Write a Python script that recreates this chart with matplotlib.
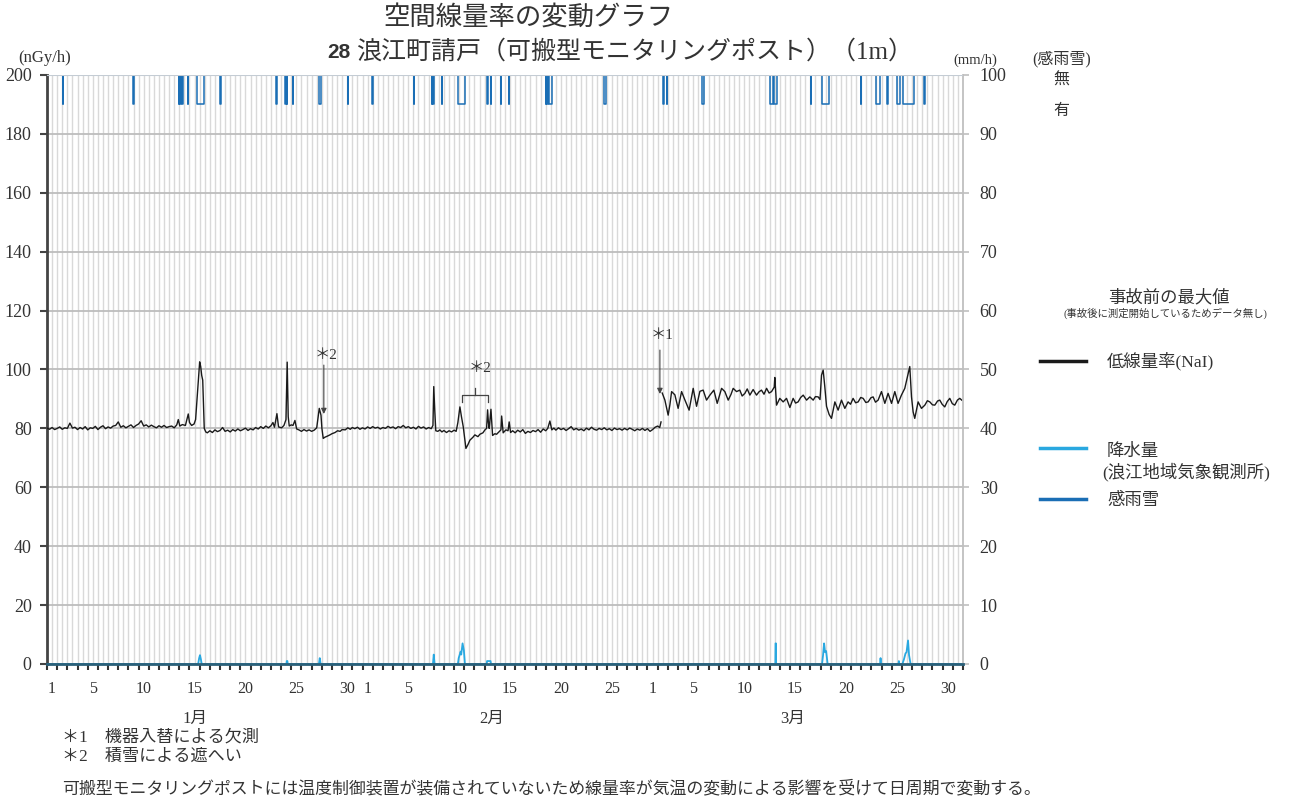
import numpy as np
import matplotlib
matplotlib.use("Agg")
import matplotlib.pyplot as plt
from matplotlib.lines import Line2D

plt.rcParams['font.family'] = ['Liberation Serif', 'Noto Sans CJK JP', 'DejaVu Sans']

# ---------------- data (time in days since Jan 1 00:00) ----------------
month_names = ['1月', '2月', '3月']
month_starts = [0, 31, 59]
month_label_pos = [14.5, 43.7, 73.3]
label_days = [[1, 5, 10, 15, 20, 25, 30], [1, 5, 10, 15, 20, 25], [1, 5, 10, 15, 20, 25, 30]]

dose_t = [0.0, 0.25, 0.5, 0.75, 1.0, 1.25, 1.5, 1.75, 2.0, 2.25, 2.5, 2.75, 3.0, 3.25, 3.5, 3.75,
          4.0, 4.25, 4.5, 4.75, 5.0, 5.25, 5.5, 5.75, 6.0, 6.25, 6.5, 6.75, 7.0, 7.25, 7.5, 7.75,
          8.0, 8.25, 8.5, 8.75, 9.0, 9.25, 9.5, 9.75, 10.0, 10.25, 10.5, 10.75, 11.0, 11.25, 11.5,
          11.75, 12.0, 12.25, 12.5, 12.75, 12.9, 13.05, 13.3, 13.6, 13.88, 14.0, 14.21, 14.45, 14.6,
          14.7, 14.85, 15.0, 15.1, 15.2, 15.3, 15.38, 15.45, 15.6, 15.75, 16.0, 16.25, 16.5, 16.75,
          17.0, 17.25, 17.5, 17.75, 18.0, 18.25, 18.5, 18.75, 19.0, 19.25, 19.5, 19.75, 20.0, 20.25,
          20.5, 20.75, 21.0, 21.25, 21.5, 21.75, 22.0, 22.2, 22.35, 22.59, 22.75, 23.05, 23.28, 23.48,
          23.6, 23.7, 23.8, 24.0, 24.17, 24.36, 24.53, 24.75, 25.0, 25.25, 25.5, 25.75, 26.0, 26.25,
          26.5, 26.62, 26.75, 26.85, 26.92, 27.01, 27.14, 27.3, 27.5, 27.8, 28.0, 28.3, 28.55, 28.8,
          29.0, 29.3, 29.55, 29.8, 30.0, 30.25, 30.5, 30.75, 31.0,
          31.25, 31.5, 31.75, 32.0, 32.25, 32.5, 32.75, 33.0, 33.25, 33.5, 33.75, 34.0, 34.25, 34.5,
          34.75, 35.0, 35.25, 35.5, 35.75, 36.0, 36.25, 36.5, 36.75, 37.0, 37.25, 37.5, 37.75, 37.92,
          38.0, 38.1, 38.2, 38.4, 38.6, 38.8, 39.0, 39.25, 39.5, 39.75, 40.0, 40.2, 40.37, 40.57,
          40.72, 40.9, 41.16, 41.36, 41.55, 41.85, 42.04, 42.34, 42.53, 42.83, 43.03, 43.19, 43.29,
          43.37, 43.45, 43.55, 43.62, 43.78, 44.0, 44.17, 44.4, 44.6, 44.67, 44.82, 45.09, 45.3,
          45.41, 45.55, 45.75, 46.0, 46.25, 46.5, 46.75, 47.0, 47.25, 47.5, 47.75, 48.0, 48.25, 48.5,
          48.75, 49.0, 49.2, 49.41, 49.6, 49.8, 50.0, 50.25, 50.5, 50.75, 51.0, 51.25, 51.5, 51.75,
          52.0, 52.25, 52.5, 52.75, 53.0, 53.25, 53.5, 53.75, 54.0, 54.25, 54.5, 54.75, 55.0, 55.25,
          55.5, 55.75, 56.0, 56.25, 56.5, 56.75, 57.0, 57.25, 57.5, 57.75, 58.0, 58.25, 58.5, 58.75,
          59.0, 59.25, 59.5, 59.75, 60.0, 60.2, 60.33, 60.4,
          60.45, 60.71, 61.03, 61.2, 61.37, 61.69, 62.01, 62.35, 62.67, 63.09, 63.49, 63.82, 64.15,
          64.47, 64.8, 65.13, 65.52, 65.85, 66.28, 66.6, 66.93, 67.2, 67.42, 67.75, 68.07, 68.3,
          68.57, 68.8, 69.06, 69.38, 69.71, 69.95, 70.2, 70.45, 70.7, 70.95, 71.19, 71.45, 71.51,
          71.68, 72.0, 72.33, 72.66, 72.99, 73.31, 73.55, 73.8, 74.05, 74.3, 74.63, 74.95, 75.28,
          75.5, 75.77, 75.95, 76.1, 76.26, 76.42, 76.59, 76.85, 77.08, 77.41, 77.73, 78.06, 78.39,
          78.71, 78.95, 79.2, 79.45, 79.7, 79.95, 80.19, 80.45, 80.68, 80.95, 81.17, 81.4, 81.66,
          81.99, 82.32, 82.64, 82.98, 83.3, 83.62, 83.95, 84.28, 84.55, 84.77, 84.94, 85.1, 85.26,
          85.59, 85.92, 86.25, 86.5, 86.74, 87.0, 87.23, 87.5, 87.72, 87.95, 88.21, 88.45, 88.7,
          88.95, 89.19, 89.45, 89.68, 89.88]
dose_v = [80.1, 79.7, 80.3, 79.6, 80.0, 80.5, 79.7, 80.2, 80.0, 81.8, 80.1, 80.4, 79.6, 80.3, 79.8, 80.6,
          79.5, 80.2, 80.0, 80.7, 79.6, 80.4, 80.9, 79.9, 80.5, 80.1, 80.8, 81.0, 82.2, 80.4, 80.9, 80.2,
          80.7, 81.2, 80.3, 81.0, 81.5, 82.6, 80.8, 81.2, 80.5, 81.1, 80.6, 80.2, 80.9, 80.4, 81.0,
          80.3, 80.6, 80.8, 80.2, 81.2, 83.0, 80.8, 81.3, 81.0, 84.9, 82.0, 81.0, 81.5, 83.0,
          88.0, 96.0, 102.6, 101.0, 98.0, 96.4, 88.0, 80.0, 78.8, 78.5, 79.2, 78.6, 79.5, 78.9,
          79.3, 80.3, 79.0, 79.4, 78.8, 79.6, 79.1, 79.8, 79.2, 79.6, 80.1, 79.3, 79.9, 79.5,
          80.3, 79.8, 80.6, 80.0, 80.8, 80.2, 80.9, 82.0, 80.4, 85.0, 80.5, 80.2, 81.0, 83.0,
          102.5, 84.0, 80.8, 81.2, 81.0, 82.7, 79.8, 79.5, 79.0, 79.6, 79.1, 79.5, 79.0, 79.4,
          80.2, 83.5, 86.8, 85.5, 84.5, 80.0, 76.6, 77.0, 77.3, 77.8, 78.2, 78.6, 79.2, 79.0,
          79.6, 79.5, 80.2, 79.7, 80.3, 79.9, 80.4, 79.7, 80.2,
          79.8, 80.5, 80.0, 80.6, 80.1, 80.4, 79.8, 80.3, 80.0, 80.7, 80.2, 80.5, 79.9, 80.6,
          80.3, 81.0, 80.2, 80.6, 80.0, 80.4, 79.8, 80.7, 80.1, 80.5, 79.8, 80.3, 79.9, 81.0,
          94.2, 86.0, 79.2, 79.0, 79.5, 78.8, 79.3, 78.6, 79.2, 78.8, 79.4, 79.0, 82.0, 87.3,
          84.0, 80.5, 73.2, 74.5, 76.0, 77.0, 77.8, 77.2, 78.0, 78.5, 79.5, 80.0, 86.3,
          82.0, 80.0, 84.0, 86.5, 77.6, 78.2, 78.0, 78.8, 79.5, 84.2, 78.5, 79.5, 79.2,
          82.2, 78.6, 79.2, 78.5, 79.4, 78.8, 79.6, 78.3, 79.0, 78.6, 79.3, 78.9, 79.6, 78.7,
          79.8, 79.2, 80.0, 82.5, 79.5, 80.1, 79.4, 80.2, 79.6, 80.0, 79.3, 79.9, 80.6, 79.5,
          80.0, 79.4, 79.8, 79.2, 80.1, 79.5, 80.4, 79.7, 79.4, 80.0, 79.6, 80.2, 79.5, 79.9,
          79.3, 80.1, 79.6, 79.9, 79.4, 80.0, 79.5, 80.1, 79.7, 79.2, 79.8, 79.4, 80.0, 79.3,
          79.9, 79.0, 79.6, 80.4, 80.8, 80.3, 82.2, np.nan,
          92.0, 89.6, 84.5, 88.0, 92.5, 91.4, 86.8, 92.5, 89.7, 86.2, 93.6, 87.5, 92.6,
          93.0, 89.6, 91.3, 93.0, 88.5, 93.6, 92.5, 89.6, 91.5, 93.6, 92.5, 93.0, 91.0,
          91.9, 93.4, 91.3, 93.2, 91.3, 92.4, 93.0, 91.6, 93.6, 92.0, 92.5, 94.0, 97.3,
          87.9, 90.2, 89.0, 90.2, 87.1, 90.2, 88.6, 89.0, 90.5, 91.3, 89.6, 90.7, 89.6,
          90.8, 90.7, 89.8, 98.1, 99.8, 94.2, 87.5, 84.7, 83.4, 89.0, 86.2, 89.6, 86.8,
          89.0, 88.2, 90.2, 88.7, 89.0, 90.5, 90.2, 88.8, 89.0, 90.4, 90.7, 88.9, 89.6,
          92.5, 88.5, 91.9, 88.5, 92.5, 88.5, 91.3, 93.6, 97.6, 101.0, 90.7, 85.6, 83.4,
          89.0, 86.8, 87.9, 89.4, 89.0, 88.0, 87.9, 89.3, 89.6, 88.2, 87.3, 89.1, 90.2,
          88.4, 87.9, 89.6, 90.2, 89.6]

precip_t = [0.0, 14.85, 14.95, 15.03, 15.12, 15.2, 23.53, 23.56, 23.62, 23.65, 26.72, 26.8, 26.88,
            37.92, 38.0, 38.08, 40.37, 40.45, 40.64, 40.7, 40.83, 40.96, 41.06, 43.2, 43.24, 43.58,
            43.62, 71.56, 71.58, 71.62, 71.64, 76.15, 76.25, 76.35, 76.45, 76.55, 76.7, 81.86, 81.9,
            81.94, 83.66, 83.7, 83.74, 84.05, 84.1, 84.2, 84.35, 84.45, 84.6, 84.7, 84.85, 90.0]
precip_v = [0, 0, 1.0, 1.5, 0.8, 0, 0, 0.5, 0.5, 0, 0, 1.0, 0,
            0, 1.6, 0, 0, 1.0, 2.1, 1.6, 3.5, 2.3, 0, 0, 0.5, 0.5,
            0, 0, 3.5, 3.5, 0, 0, 1.5, 3.5, 2.0, 2.2, 0, 0, 1.0,
            0, 0, 0.5, 0, 0, 0.3, 0.8, 1.8, 2.0, 4.0, 1.5, 0, 0]

# rain/snow sensing episodes (start day, end day)
sense_start = [1.58, 8.46, 12.95, 13.07, 13.3, 13.86, 14.70, 17.04, 22.54, 23.43, 23.55, 24.17,
               26.70, 29.58, 31.97, 36.01, 37.78, 37.96, 38.78, 40.42, 43.25, 43.58, 44.60, 45.40,
               49.02, 49.14, 49.33, 54.74, 60.50, 60.90, 64.37, 71.04, 71.45, 75.03, 76.10, 79.96,
               81.45, 82.50, 83.50, 84.10, 86.20]
sense_end = [1.62, 8.50, 13.0, 13.12, 13.35, 13.9, 15.42, 17.08, 22.58, 23.46, 23.60, 24.21,
             26.90, 29.62, 32.01, 36.05, 37.82, 38.00, 38.82, 41.08, 43.29, 43.62, 44.64, 45.44,
             49.06, 49.18, 49.59, 54.95, 60.58, 60.94, 64.54, 71.35, 71.75, 75.07, 76.86, 80.00,
             81.85, 82.67, 83.80, 85.14, 86.24]
SENSE_NONE, SENSE_YES = 100, 95

# ---------------- figure ----------------
W, H = 1292, 802
fig = plt.figure(figsize=(W / 100, H / 100), dpi=100)
L, R, T, B = 47, 963, 75, 664
ax = fig.add_axes([L / W, 1 - B / H, (R - L) / W, (B - T) / H])
ax.set_xlim(0, 90)
ax.set_ylim(0, 200)
ax2 = ax.twinx()
ax2.set_ylim(0, 100)

txt = '#333333'

# grid
ax.vlines(np.arange(0.5, 90, 0.5), 0, 200, colors='#d9d9d9', lw=1.0, zorder=0)
ax.hlines(np.arange(20, 201, 20), 0, 90, colors='#bdbdbd', lw=1.3, zorder=0.5)

# dose rate
ax.plot(dose_t, dose_v, color='#1a1a1a', lw=1.0, zorder=3)

# precipitation
ax2.plot(precip_t, precip_v, color='#29a8e0', lw=1.3, zorder=2)

# sensing line
st, sv = [0.0], [SENSE_NONE]
for s, e in zip(sense_start, sense_end):
    st += [s, s, e, e]
    sv += [SENSE_NONE, SENSE_YES, SENSE_YES, SENSE_NONE]
st.append(90.0)
sv.append(SENSE_NONE)
ax2.plot(st, sv, color='#1a6eb5', lw=1.1, zorder=2)
ax2.axhline(100, color='#c4ccd4', lw=1.5, zorder=3)

# spines
for a in (ax, ax2):
    a.spines['top'].set_visible(False)
ax.spines['left'].set_color('#444444')
ax.spines['left'].set_linewidth(2)
ax.spines['right'].set_visible(False)
ax2.spines['left'].set_visible(False)
ax2.spines['right'].set_color('#bfbfbf')
ax2.spines['right'].set_linewidth(1.3)
ax2.spines['bottom'].set_color('#2a5f78')
ax2.spines['bottom'].set_linewidth(2)
ax2.spines['bottom'].set_zorder(5)
ax.spines['bottom'].set_visible(False)

# y ticks
ax.set_yticks(np.arange(0, 201, 20))
ax.tick_params(axis='y', length=5, width=1.5, color='#444444', pad=6, labelsize=13, labelcolor=txt)
ax2.set_yticks(np.arange(0, 101, 10))
ax2.tick_params(axis='y', length=4, width=1.2, color='#bfbfbf', pad=8, labelsize=13, labelcolor=txt)

# x ticks
pos, labs = [], []
for ms, days in zip(month_starts, label_days):
    for d in days:
        pos.append(ms + d - 0.5)
        labs.append(str(d))
ax.set_xticks(pos)
ax.set_xticklabels(labs)
ax.set_xticks(np.arange(0, 91, 1), minor=True)
ax.tick_params(axis='x', which='major', length=0, pad=12, labelsize=11.5, labelcolor=txt)
ax.tick_params(axis='x', which='minor', length=4, width=1.5, color='#333333')
ax2.tick_params(axis='x', which='both', length=0, labelbottom=False)

for name, p in zip(month_names, month_label_pos):
    ax.text(p, -18.5, name, ha='center', va='center', fontsize=12, color=txt)

# annotations
arrow_kw = dict(arrowstyle='-|>', color='#444444', lw=0.8, mutation_scale=8, shrinkA=0, shrinkB=0)
ax.annotate('', xy=(27.2, 84.9), xytext=(27.2, 101.5), arrowprops=arrow_kw, zorder=4)
ax.text(27.45, 104.6, '＊2', ha='center', va='center', fontsize=11, color=txt)
ax.annotate('', xy=(60.22, 91.7), xytext=(60.22, 106.6), arrowprops=arrow_kw, zorder=4)
ax.text(60.45, 111.4, '＊1', ha='center', va='center', fontsize=11, color=txt)
ax.plot([40.77, 40.77, 43.32, 43.32], [88.9, 91.3, 91.3, 88.9], color='#444444', lw=0.9, zorder=4)
ax.plot([42.04, 42.04], [91.3, 93.7], color='#444444', lw=0.9, zorder=4)
ax.text(42.5, 100.2, '＊2', ha='center', va='center', fontsize=11, color=txt)

def ft(x, y, s, **kw):
    kw.setdefault('color', txt)
    fig.text(x / W, 1 - y / H, s, **kw)

# titles
ft(528, 18, '空間線量率の変動グラフ', ha='center', va='center', fontsize=19)
ft(339, 52, '28', ha='center', va='center', fontsize=15, fontweight='bold',
   family=['Liberation Sans', 'DejaVu Sans'])
ft(356, 52, '浪江町請戸（可搬型モニタリングポスト）（1m）', ha='left', va='center', fontsize=18)

# axis unit labels
ft(45, 58, '(nGy/h)', ha='center', va='center', fontsize=12)
ft(975, 60, '(mm/h)', ha='center', va='center', fontsize=10.5)
ft(1062, 59, '(感雨雪)', ha='center', va='center', fontsize=11.5)
ft(1061, 81, '無', ha='center', va='center', fontsize=11.5)
ft(1061, 111, '有', ha='center', va='center', fontsize=11.5)

# legend
ft(1169, 298, '事故前の最大値', ha='center', va='center', fontsize=12.5)
ft(1165, 313, '(事故後に測定開始しているためデータ無し)', ha='center', va='center', fontsize=7.5)
for y, c in [(361, '#1a1a1a'), (448, '#29a8e0'), (499, '#1a6eb5')]:
    fig.add_artist(Line2D([1040 / W, 1086 / W], [1 - y / H] * 2, color=c, lw=2.5))
ft(1107, 361, '低線量率(NaI)', ha='left', va='center', fontsize=12.5)
ft(1107, 452, '降水量', ha='left', va='center', fontsize=12.5)
ft(1102, 472, '(浪江地域気象観測所)', ha='left', va='center', fontsize=12.5)
ft(1107, 501, '感雨雪', ha='left', va='center', fontsize=12.5)

# footnotes
ft(62, 738, '＊1　機器入替による欠測', ha='left', va='center', fontsize=12.3)
ft(62, 757, '＊2　積雪による遮へい', ha='left', va='center', fontsize=12.3)
ft(62, 789, '可搬型モニタリングポストには温度制御装置が装備されていないため線量率が気温の変動による影響を受けて日周期で変動する。',
   ha='left', va='center', fontsize=12.2)

fig.savefig('out.png', dpi=100)
